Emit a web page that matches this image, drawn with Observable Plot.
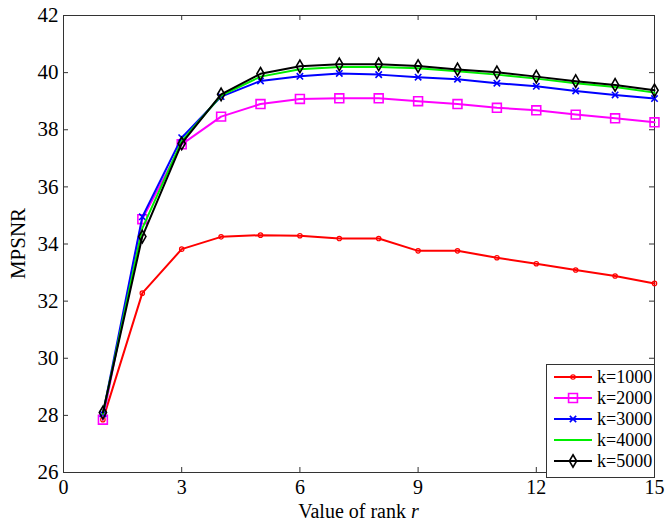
<!DOCTYPE html>
<html>
<head>
<meta charset="utf-8">
<script src="https://cdn.jsdelivr.net/npm/d3@7"></script>
<script src="https://cdn.jsdelivr.net/npm/@observablehq/plot@0.6"></script>
<style>
  html, body { margin: 0; padding: 0; background: #fff; }
  #wrap { position: relative; width: 669px; height: 523px; font-family: "Liberation Serif", "Times New Roman", serif; }
  #legend { position: absolute; left: 546px; top: 364px; background: #fff; border: 1px solid #333; }
</style>
</head>
<body>
<div id="wrap"></div>
<script>
const rank = [1,2,3,4,5,6,7,8,9,10,11,12,13,14,15];
const k1000 = [27.85,32.28,33.82,34.25,34.31,34.29,34.19,34.19,33.76,33.76,33.52,33.31,33.09,32.88,32.62];
const k2000 = [27.85,34.87,37.49,38.46,38.90,39.08,39.10,39.10,39.00,38.90,38.77,38.68,38.53,38.40,38.26];
const k3000 = [28.05,34.95,37.72,39.16,39.71,39.87,39.97,39.93,39.84,39.77,39.63,39.52,39.36,39.22,39.09];
const k4000 = [28.05,34.55,37.60,39.20,39.86,40.12,40.20,40.20,40.15,40.05,39.93,39.79,39.63,39.50,39.30];
const k5000 = [28.10,34.26,37.52,39.24,39.96,40.22,40.29,40.29,40.23,40.11,40.01,39.86,39.70,39.57,39.38];
const seriesNames = ["k=1000","k=2000","k=3000","k=4000","k=5000"];
const seriesValues = [k1000,k2000,k3000,k4000,k5000];
const colors = ["#ff0000","#ff00ff","#0000ff","#00ee00","#000000"];
const symbols = ["circle","square","times",null,"diamond"];
const radii = [2.2,5,3,0,3.8];
const markStroke = [1.2,1.6,1.6,0,1.6];
const xTicks = [0,3,6,9,12,15];
const yTicks = [26,28,30,32,34,36,38,40,42];

const W = 669, H = 523;
const mT = 15, mB = 51, mL = 63, mR = 15;
const plotH = H - mT - mB, plotW = W - mL - mR;
const tickLen = 5;
const serif = "'Liberation Serif', 'Times New Roman', serif";

const marks = [];
// inward ticks (matlab style) on all four sides
marks.push(Plot.tickX(xTicks, {x: d => d, stroke: "#333", insetTop: plotH - tickLen}));
marks.push(Plot.tickX(xTicks, {x: d => d, stroke: "#333", insetBottom: plotH - tickLen}));
marks.push(Plot.tickY(yTicks, {y: d => d, stroke: "#333", insetRight: plotW - tickLen}));
marks.push(Plot.tickY(yTicks, {y: d => d, stroke: "#333", insetLeft: plotW - tickLen}));
marks.push(Plot.frame({stroke: "#333"}));
marks.push(Plot.axisX(xTicks, {tickSize: 0, tickPadding: 7, fontSize: 20, label: null}));
marks.push(Plot.axisY(yTicks, {tickSize: 0, tickPadding: 5, fontSize: 21, label: null}));

seriesNames.forEach((name, i) => {
  const data = rank.map((r, j) => ({r, v: seriesValues[i][j]}));
  marks.push(Plot.line(data, {x: "r", y: "v", stroke: colors[i], strokeWidth: 2}));
  if (symbols[i]) {
    marks.push(Plot.dot(data, {x: "r", y: "v", stroke: colors[i], strokeWidth: markStroke[i], fill: "none", symbol: symbols[i], r: radii[i]}));
  }
});

const chart = Plot.plot({
  width: W, height: H,
  marginTop: mT, marginBottom: mB, marginLeft: mL, marginRight: mR,
  style: {fontFamily: serif, fontSize: "21px", color: "#000", background: "#fff"},
  x: {domain: [0, 15]},
  y: {domain: [26, 42]},
  marks
});

// axis titles
const svgNS = "http://www.w3.org/2000/svg";
const xl = document.createElementNS(svgNS, "text");
xl.setAttribute("x", mL + plotW / 2);
xl.setAttribute("y", H - 5);
xl.setAttribute("text-anchor", "middle");
xl.setAttribute("font-size", "20");
xl.setAttribute("fill", "#000");
xl.innerHTML = 'Value of rank <tspan font-style="italic">r</tspan>';
chart.appendChild(xl);
const yl = document.createElementNS(svgNS, "text");
yl.setAttribute("transform", `translate(25,${mT + plotH / 2}) rotate(-90)`);
yl.setAttribute("text-anchor", "middle");
yl.setAttribute("font-size", "21");
yl.setAttribute("fill", "#000");
yl.textContent = "MPSNR";
chart.appendChild(yl);

const wrap = document.getElementById("wrap");
wrap.appendChild(chart);

// legend
const legW = 107, legH = 108, rowH = 21;
const leg = d3.select(wrap).append("div").attr("id", "legend");
const ls = leg.append("svg").attr("width", legW).attr("height", legH);
const symMap = {circle: d3.symbolCircle, square: d3.symbolSquare, times: d3.symbolTimes, diamond: d3.symbolDiamond};
seriesNames.forEach((name, i) => {
  const cy = 12 + i * rowH;
  ls.append("line").attr("x1", 7).attr("x2", 45).attr("y1", cy).attr("y2", cy)
    .attr("stroke", colors[i]).attr("stroke-width", 2);
  if (symbols[i]) {
    ls.append("path").attr("transform", `translate(26,${cy})`)
      .attr("d", d3.symbol(symMap[symbols[i]], Math.PI * radii[i] * radii[i])())
      .attr("fill", "none").attr("stroke", colors[i]).attr("stroke-width", markStroke[i]);
  }
  ls.append("text").attr("x", 50).attr("y", cy + 6).attr("font-size", 18)
    .attr("font-family", serif).text(name);
});
</script>
</body>
</html>
